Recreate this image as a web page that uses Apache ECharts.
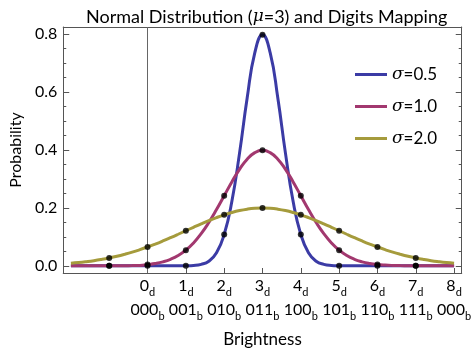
<!DOCTYPE html>
<html>
<head>
<meta charset="utf-8">
<script src="https://cdn.jsdelivr.net/npm/echarts@6/dist/echarts.min.js"></script>
<style>
  html, body { margin: 0; padding: 0; background: #fff; }
  #main { width: 474px; height: 353px; }
</style>
</head>
<body>
<div id="main"></div>
<script>
// brightness positions of the sampled curves
var xs = [-2, -1.8, -1.6, -1.4, -1.2, -1, -0.8, -0.6, -0.4, -0.2,
  0, 0.2, 0.4, 0.6, 0.8, 1, 1.2, 1.4, 1.6, 1.8,
  2, 2.2, 2.4, 2.6, 2.8, 3, 3.2, 3.4, 3.6, 3.8,
  4, 4.2, 4.4, 4.6, 4.8, 5, 5.2, 5.4, 5.6, 5.8,
  6, 6.2, 6.4, 6.6, 6.8, 7, 7.2, 7.4, 7.6, 7.8, 8];

var sigma05 = [0, 0, 0, 0, 0, 0, 0, 0, 0, 0,
  0, 0, 0, 0, 0, 0.0003, 0.0012, 0.0048, 0.0158, 0.0448,
  0.1080, 0.2218, 0.3884, 0.5794, 0.7365, 0.7979, 0.7365, 0.5794, 0.3884, 0.2218,
  0.1080, 0.0448, 0.0158, 0.0048, 0.0012, 0.0003, 0, 0, 0, 0,
  0, 0, 0, 0, 0, 0, 0, 0, 0, 0, 0];

var sigma10 = [0, 0, 0, 0, 0, 0.0001, 0.0001, 0.0003, 0.0006, 0.0012,
  0.0044, 0.0079, 0.0136, 0.0224, 0.0355, 0.0540, 0.0790, 0.1109, 0.1497, 0.1942,
  0.2420, 0.2897, 0.3332, 0.3683, 0.3910, 0.3989, 0.3910, 0.3683, 0.3332, 0.2897,
  0.2420, 0.1942, 0.1497, 0.1109, 0.0790, 0.0540, 0.0355, 0.0224, 0.0136, 0.0079,
  0.0044, 0.0024, 0.0012, 0.0006, 0.0003, 0.0001, 0.0001, 0, 0, 0, 0];

var sigma20 = [0.0088, 0.0112, 0.0142, 0.0177, 0.0220, 0.0270, 0.0328, 0.0395, 0.0470, 0.0555,
  0.0648, 0.0749, 0.0857, 0.0971, 0.1089, 0.1210, 0.1330, 0.1448, 0.1561, 0.1666,
  0.1760, 0.1841, 0.1907, 0.1955, 0.1985, 0.1995, 0.1985, 0.1955, 0.1907, 0.1841,
  0.1760, 0.1666, 0.1561, 0.1448, 0.1330, 0.1210, 0.1089, 0.0971, 0.0857, 0.0749,
  0.0648, 0.0555, 0.0470, 0.0395, 0.0328, 0.0270, 0.0220, 0.0177, 0.0142, 0.0112, 0.0088];

// marked integer points
var dotX = [-1, 0, 1, 2, 3, 4, 5, 6, 7];
var dot05 = [0, 0, 0.0003, 0.1080, 0.7979, 0.1080, 0.0003, 0, 0];
var dot10 = [0.0001, 0.0044, 0.0540, 0.2420, 0.3989, 0.2420, 0.0540, 0.0044, 0.0001];
var dot20 = [0.0270, 0.0648, 0.1210, 0.1760, 0.1995, 0.1760, 0.1210, 0.0648, 0.0270];

var xTicks = [0, 1, 2, 3, 4, 5, 6, 7, 8];
var decLabels = ['0', '1', '2', '3', '4', '5', '6', '7', '8'];
var binLabels = ['000', '001', '010', '011', '100', '101', '110', '111', '000'];
var yLabels = [0, 0.2, 0.4, 0.6, 0.8];
var yMinor = [0, 0.05, 0.1, 0.15, 0.2, 0.25, 0.3, 0.35, 0.4, 0.45, 0.5, 0.55, 0.6, 0.65, 0.7, 0.75, 0.8];

var names = ['σ=0.5', 'σ=1.0', 'σ=2.0'];
var colors = ['#3b3ba5', '#a2386f', '#a59b3c'];

var font = 'Lato';
var frame = '#555';

function pairs(x, y) {
  return x.map(function (v, i) { return [v, y[i]]; });
}

// y axis copy: only ticks (or frame line) on one side
function yFrame(pos, ticks, len, line) {
  return {
    type: 'value',
    min: -0.025,
    max: 0.825,
    position: pos,
    axisLine: { show: line, onZero: false, lineStyle: { color: frame, width: 1 } },
    axisTick: { show: true, inside: true, length: len, customValues: ticks, lineStyle: { color: frame } },
    axisLabel: { show: false },
    splitLine: { show: false }
  };
}

var chart = echarts.init(document.getElementById('main'));

var curves = [sigma05, sigma10, sigma20].map(function (ys, i) {
  return {
    name: names[i],
    type: 'line',
    data: pairs(xs, ys),
    smooth: true,
    showSymbol: false,
    lineStyle: { width: 3, color: colors[i] },
    itemStyle: { color: colors[i] },
    z: 3 + i
  };
});

var dots = [dot05, dot10, dot20].map(function (ys) {
  return {
    type: 'scatter',
    data: pairs(dotX, ys),
    symbolSize: 6,
    itemStyle: { color: '#000' },
    z: 10
  };
});

var option = {
  animation: false,
  textStyle: { fontFamily: font },
  title: {
    text: 'Normal Distribution ({i|μ}=3) and Digits Mapping',
    left: 81,
    top: 3,
    textStyle: {
      fontFamily: font, fontSize: 18, fontWeight: 'normal', color: '#000',
      rich: {
        i: { fontFamily: 'DejaVu Serif', fontStyle: 'italic', fontSize: 17, color: '#000' }
      }
    }
  },
  legend: {
    data: names,
    orient: 'vertical',
    left: 350,
    top: 59,
    icon: 'rect',
    itemWidth: 32,
    itemHeight: 3,
    itemGap: 11,
    formatter: function (n) { return '{i|σ}' + n.slice(1); },
    textStyle: {
      fontFamily: font, fontSize: 17, color: '#000', lineHeight: 21,
      rich: {
        i: { fontFamily: 'DejaVu Serif', fontStyle: 'italic', fontSize: 17, color: '#000' }
      }
    }
  },
  grid: { left: 59, right: 11, top: 27, bottom: 77 },
  xAxis: [{
    type: 'value',
    min: -2.2,
    max: 8.2,
    position: 'bottom',
    name: 'Brightness',
    nameLocation: 'middle',
    nameGap: 58,
    nameTextStyle: { fontFamily: font, fontSize: 17, color: '#000' },
    axisLine: { show: true, onZero: false, lineStyle: { color: frame, width: 1 } },
    axisTick: { show: true, inside: true, length: 5, customValues: xTicks, lineStyle: { color: frame } },
    splitLine: { show: false },
    axisLabel: {
      customValues: xTicks,
      margin: 1,
      color: '#000',
      fontSize: 16,
      lineHeight: 24,
      formatter: function (v) {
        var k = xTicks.indexOf(Math.round(v));
        return decLabels[k] + '{s|d}\n' + binLabels[k] + '{s|b}';
      },
      rich: {
        s: { fontSize: 11, lineHeight: 11, verticalAlign: 'bottom', color: '#000', fontFamily: font }
      }
    }
  }, {
    type: 'value',
    min: -2.2,
    max: 8.2,
    position: 'top',
    axisLine: { show: true, onZero: false, lineStyle: { color: frame, width: 1 } },
    axisTick: { show: false },
    axisLabel: { show: false },
    splitLine: { show: false }
  }],
  yAxis: [{
    type: 'value',
    min: -0.025,
    max: 0.825,
    position: 'left',
    name: 'Probability',
    nameLocation: 'middle',
    nameGap: 36,
    nameTextStyle: { fontFamily: font, fontSize: 16, color: '#000' },
    axisLine: { show: true, onZero: false, lineStyle: { color: frame, width: 1 } },
    axisTick: { show: true, inside: true, length: 3, customValues: yMinor, lineStyle: { color: frame } },
    splitLine: { show: false },
    axisLabel: {
      customValues: yLabels,
      margin: 6,
      color: '#000',
      fontSize: 16,
      formatter: function (v) { return v.toFixed(1); }
    }
  },
  yFrame('left', yLabels, 6, false),
  yFrame('right', yMinor, 3, true),
  yFrame('right', yLabels, 6, false)],
  series: [{
    type: 'line',
    data: [],
    z: 1,
    markLine: {
      silent: true,
      symbol: 'none',
      label: { show: false },
      lineStyle: { color: '#666', width: 1, type: 'solid' },
      data: [{ xAxis: 0 }]
    }
  }].concat(curves, dots)
};

chart.setOption(option);
</script>
</body>
</html>
